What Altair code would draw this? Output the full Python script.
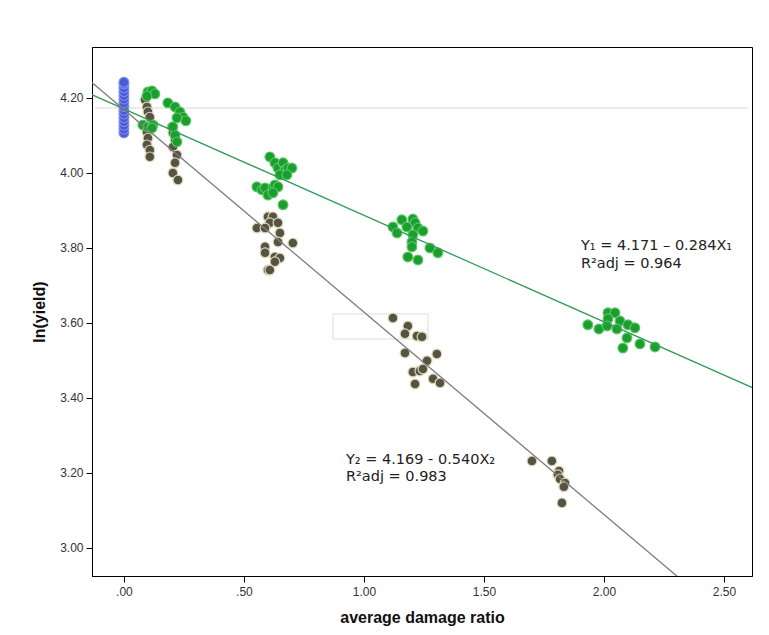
import altair as alt
import pandas as pd

# ---- data ----
blue_x = [0.0] * 15
blue_y = [4.107, 4.117, 4.127, 4.137, 4.147, 4.157, 4.167, 4.177, 4.187, 4.197,
          4.207, 4.217, 4.227, 4.237, 4.242]

green_x = [0.10, 0.117, 0.129, 0.096, 0.079, 0.10, 0.121, 0.117,
           0.183, 0.213, 0.233, 0.246, 0.221, 0.204, 0.213, 0.221, 0.258,
           0.608, 0.629, 0.642, 0.663, 0.671, 0.683, 0.70, 0.65, 0.679, 0.554,
           0.575, 0.588, 0.60, 0.621, 0.629, 0.642, 0.621, 0.663,
           1.158, 1.204, 1.213, 1.121, 1.179, 1.225, 1.246, 1.138, 1.204, 1.20,
           1.20, 1.275, 1.308, 1.183, 1.225,
           2.017, 2.046, 2.067, 2.017, 1.933, 1.979, 2.013, 2.054, 2.10, 2.129,
           2.096, 2.15, 2.213, 2.079]
green_y = [4.216, 4.219, 4.211, 4.205, 4.128, 4.123, 4.128, 4.120,
           4.187, 4.176, 4.163, 4.149, 4.147, 4.123, 4.101, 4.083, 4.139,
           4.043, 4.027, 4.013, 4.027, 4.008, 4.013, 4.013, 3.995, 3.995, 3.963,
           3.955, 3.960, 3.941, 3.960, 3.968, 3.963, 3.947, 3.915,
           3.875, 3.877, 3.867, 3.856, 3.856, 3.853, 3.845, 3.840, 3.835, 3.816,
           3.803, 3.800, 3.787, 3.776, 3.768,
           3.627, 3.627, 3.605, 3.611, 3.595, 3.584, 3.592, 3.584, 3.595, 3.587,
           3.560, 3.544, 3.536, 3.533]

gray_x = [0.088, 0.096, 0.10, 0.108, 0.096, 0.10, 0.096, 0.108, 0.108,
          0.20, 0.204, 0.213, 0.204, 0.221, 0.213, 0.204, 0.225,
          0.60, 0.621, 0.608, 0.642, 0.554, 0.588, 0.65, 0.642, 0.704, 0.588,
          0.588, 0.629, 0.65, 0.629, 0.60, 0.608,
          1.121, 1.183, 1.171, 1.221, 1.242, 1.171, 1.304, 1.263, 1.204, 1.233,
          1.246, 1.288, 1.317, 1.213,
          1.70, 1.783, 1.813, 1.808, 1.817, 1.838, 1.833, 1.825]
gray_y = [4.195, 4.176, 4.163, 4.149, 4.109, 4.093, 4.075, 4.061, 4.043,
          4.123, 4.107, 4.088, 4.069, 4.048, 4.027, 4.000, 3.981,
          3.883, 3.883, 3.867, 3.867, 3.853, 3.853, 3.840, 3.816, 3.813, 3.803,
          3.787, 3.776, 3.773, 3.763, 3.741, 3.741,
          3.613, 3.592, 3.571, 3.565, 3.563, 3.520, 3.517, 3.499, 3.469, 3.472,
          3.477, 3.451, 3.440, 3.437,
          3.232, 3.232, 3.205, 3.195, 3.184, 3.173, 3.163, 3.120]

# regression lines (intercept, slope)
fit1 = (4.171, -0.284)
fit2 = (4.169, -0.540)
line_x = [-0.2, 2.7]

ref_y = 4.173
ref_x = [-0.12, 2.60]

box_x = [0.871, 1.267]
box_y = [3.557, 3.624]

ann_text = ["Y\u2081 = 4.171 \u2013 0.284X\u2081", "R\u00b2adj = 0.964",
            "Y\u2082 = 4.169 - 0.540X\u2082", "R\u00b2adj = 0.983"]
ann_x = [1.904, 1.904, 0.925, 0.925]
ann_y = [3.805, 3.757, 3.235, 3.189]

x_ticks = [0.0, 0.5, 1.0, 1.5, 2.0, 2.5]
y_ticks = [3.0, 3.2, 3.4, 3.6, 3.8, 4.0, 4.2]
x_dom = [-0.133, 2.617]
y_dom = [2.925, 4.336]

# ---- chart ----
xs = alt.Scale(domain=x_dom, nice=False, zero=False)
ys = alt.Scale(domain=y_dom, nice=False, zero=False)
xax = alt.Axis(values=x_ticks, grid=False,
               labelExpr="datum.value < 1 ? slice(format(datum.value, '.2f'), 1) : format(datum.value, '.2f')")
yax = alt.Axis(values=y_ticks, grid=False, format=".2f")

df_blue = pd.DataFrame({"x": blue_x, "y": blue_y})
df_green = pd.DataFrame({"x": green_x, "y": green_y})
df_gray = pd.DataFrame({"x": gray_x, "y": gray_y})
df_l1 = pd.DataFrame({"x": line_x, "y": [fit1[0] + fit1[1] * v for v in line_x]})
df_l2 = pd.DataFrame({"x": line_x, "y": [fit2[0] + fit2[1] * v for v in line_x]})
df_ref = pd.DataFrame({"x": ref_x, "y": [ref_y, ref_y]})
df_box = pd.DataFrame({"x": [box_x[0]], "x2": [box_x[1]], "y": [box_y[0]], "y2": [box_y[1]]})
df_ann = pd.DataFrame({"t": ann_text, "x": ann_x, "y": ann_y})

X = alt.X("x:Q", scale=xs, axis=xax, title="average damage ratio")
Y = alt.Y("y:Q", scale=ys, axis=yax, title="ln(yield)")

ref = alt.Chart(df_ref).mark_line(color="#e4e4e4", strokeWidth=1.5).encode(X, Y)
box = alt.Chart(df_box).mark_rect(fill="transparent", stroke="#cfe8cf", strokeWidth=1).encode(
    x=alt.X("x:Q", scale=xs), x2="x2", y=alt.Y("y:Q", scale=ys), y2="y2")

def pts(df, fill, stroke):
    return alt.Chart(df).mark_point(filled=True, size=95, fill=fill, stroke=stroke,
                                    strokeWidth=1.2, opacity=1).encode(X, Y)

p_blue = pts(df_blue, "#4a5ad6", "#7f8cf0")
p_gray = pts(df_gray, "#575344", "#dcd8b8")
p_green = pts(df_green, "#1a9e2c", "#5cc46a")

l1 = alt.Chart(df_l1).mark_line(color="#2e9a55", strokeWidth=1.3, clip=True).encode(X, Y)
l2 = alt.Chart(df_l2).mark_line(color="#7d7d7d", strokeWidth=1.3, clip=True).encode(X, Y)

ann = alt.Chart(df_ann).mark_text(align="left", baseline="middle", font="DejaVu Sans",
                                  fontSize=14.5, color="#222222").encode(
    x=alt.X("x:Q", scale=xs), y=alt.Y("y:Q", scale=ys), text="t:N")

chart = alt.layer(ref, box, p_blue, p_gray, p_green, l1, l2, ann).properties(
    width=660, height=529,
    padding={"left": 84, "top": 39, "right": 9, "bottom": 59},
    autosize="none",
).configure_view(stroke="#000000", strokeWidth=1).configure_axis(
    domainColor="#000000", tickColor="#000000", tickSize=6,
    labelFont="Liberation Sans", labelFontSize=12, labelColor="#333333",
    titleFont="Liberation Sans", titleFontSize=16, titleFontWeight="bold",
    titleColor="#111111",
).configure_axisX(labelPadding=4, titlePadding=12).configure_axisY(
    labelPadding=3, titlePadding=12)

chart.save("out.html", embed_options={"renderer": "svg", "actions": False})
